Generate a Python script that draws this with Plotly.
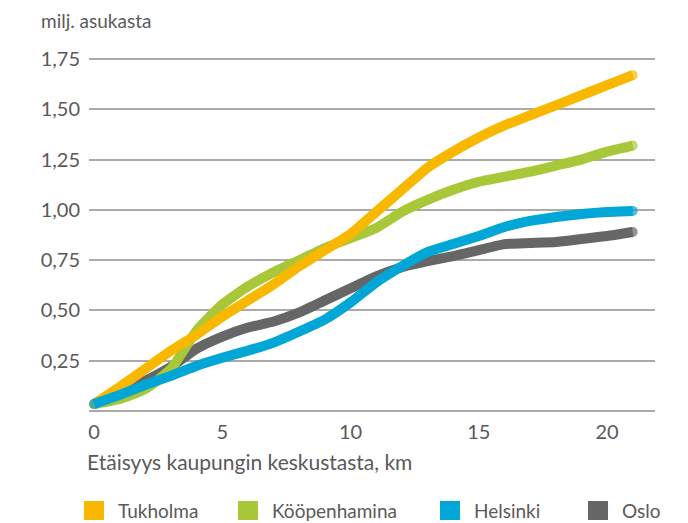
import plotly.graph_objects as go

km = list(range(0, 22))
tick_vals = [0.25, 0.5, 0.75, 1.0, 1.25, 1.5, 1.75]
x_ticks = [0, 5, 10, 15, 20]

cities = ["Tukholma", "Kööpenhamina", "Helsinki", "Oslo"]
tukholma = [0.035, 0.12, 0.21, 0.30, 0.38, 0.47, 0.55, 0.63, 0.72, 0.80, 0.88,
            0.99, 1.10, 1.21, 1.29, 1.36, 1.42, 1.47, 1.52, 1.57, 1.62, 1.67]
koopenhamina = [0.035, 0.06, 0.11, 0.21, 0.40, 0.53, 0.62, 0.69, 0.75, 0.81, 0.86,
                0.91, 0.99, 1.05, 1.10, 1.14, 1.165, 1.19, 1.22, 1.25, 1.29, 1.32]
helsinki = [0.035, 0.08, 0.13, 0.175, 0.225, 0.265, 0.30, 0.34, 0.395, 0.455, 0.54,
            0.64, 0.72, 0.79, 0.83, 0.87, 0.915, 0.945, 0.965, 0.98, 0.99, 0.995]
oslo = [0.035, 0.09, 0.15, 0.22, 0.31, 0.37, 0.415, 0.445, 0.49, 0.55, 0.61,
        0.67, 0.715, 0.745, 0.77, 0.80, 0.83, 0.835, 0.84, 0.855, 0.87, 0.89]

series = {"Tukholma": tukholma, "Kööpenhamina": koopenhamina,
          "Helsinki": helsinki, "Oslo": oslo}
colors = {"Tukholma": "#f9b800", "Kööpenhamina": "#a8c83a",
          "Helsinki": "#00a7d6", "Oslo": "#666666"}
draw_order = ["Oslo", "Kööpenhamina", "Tukholma", "Helsinki"]

FONT = "Lato, 'Open Sans', sans-serif"
TXT = "#5a5a5a"

PW, PH = 566, 362  # plot area size in px

fig = go.Figure()
for name in draw_order:
    ys = series[name]
    sizes = [10] + [0] * (len(ys) - 2) + [10]
    fig.add_trace(go.Scatter(
        x=km, y=ys, name=name, mode="lines+markers",
        line=dict(color=colors[name], width=10, shape="spline", smoothing=0.5),
        marker=dict(color=colors[name], size=sizes, line=dict(width=0)),
        showlegend=False, cliponaxis=False,
    ))

fig.update_layout(
    width=680, height=515,
    margin=dict(l=81, r=33, t=41, b=112),
    paper_bgcolor="white", plot_bgcolor="white",
    separators=", ",
    font=dict(family=FONT, color=TXT, size=20),
    showlegend=False,
)
fig.update_xaxes(
    range=[-0.2, 21.87], tickvals=x_ticks, showgrid=False, zeroline=False,
    showline=False, ticks="", tickfont=dict(size=20, color=TXT), ticklabelstandoff=7,
)
fig.update_yaxes(
    range=[0, 1.8], tickvals=tick_vals, tickformat=".2f",
    showgrid=True, gridcolor="#aaaaaa", gridwidth=1.5, zeroline=True,
    zerolinecolor="#aaaaaa", zerolinewidth=1.5, showline=False, ticks="",
    tickfont=dict(size=20, color=TXT), ticklabelstandoff=8,
)

fig.add_annotation(text="milj. asukasta", xref="paper", yref="paper",
                   x=-50 / PW, y=1 + 28 / PH, xanchor="left", yanchor="middle",
                   showarrow=False, font=dict(size=19, color=TXT))
fig.add_annotation(text="Etäisyys kaupungin keskustasta, km", xref="paper", yref="paper",
                   x=-4 / PW, y=-51 / PH, xanchor="left", yanchor="middle",
                   showarrow=False, font=dict(size=21, color=TXT))

# legend drawn manually (offsets relative to the plot area)
leg_x = [84, 238, 440, 588]
for name, lx in zip(cities, leg_x):
    fig.add_shape(type="rect", xref="paper", yref="paper",
                  x0=(lx - 89) / PW, x1=(lx + 20 - 89) / PW,
                  y0=(411 - 501) / PH, y1=(411 - 520) / PH,
                  fillcolor=colors[name], line=dict(width=0))
    fig.add_annotation(text=name, xref="paper", yref="paper",
                       x=(lx + 32 - 89) / PW, y=(411 - 510) / PH,
                       xanchor="left", yanchor="middle", showarrow=False,
                       font=dict(size=19, color=TXT))

fig.write_html("out.html")
